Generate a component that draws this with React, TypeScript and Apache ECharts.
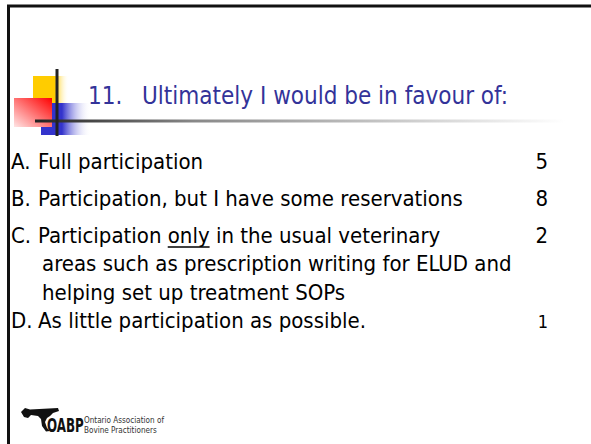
import React, { useEffect, useRef } from "react";
import * as echarts from "echarts";

const questionNumber = "11.";
const questionText = "Ultimately I would be in favour of:";
const letters = ["A.", "B.", "C.", "D."];
const answerLines = [
  ["Full participation"],
  ["Participation, but I have some reservations"],
  ["Participation only in the usual veterinary", "areas such as prescription writing for ELUD and", "helping set up treatment SOPs"],
  ["As little participation as possible."],
];
const votes = [5, 8, 2, 1];
const logoName = "OABP";
const logoLines = ["Ontario Association of", "Bovine Practitioners"];

const FONT = "'DejaVu Sans Condensed', 'DejaVu Sans', sans-serif";
const BODY_SIZE = 22;
const TITLE_SIZE = 24;

function measure(text: string, size: number): number {
  const c = document.createElement("canvas").getContext("2d");
  if (!c) return text.length * size * 0.5;
  c.font = `${size}px ${FONT}`;
  return c.measureText(text).width;
}

export default function App() {
  const ref = useRef<HTMLDivElement>(null);
  useEffect(() => {
    if (!ref.current) return;
    const chart = echarts.init(ref.current, null, { renderer: "svg" });
    const els: any[] = [];

    // frame
    els.push({ type: "line", shape: { x1: 7, y1: 6, x2: 591, y2: 6 }, style: { stroke: "#111", lineWidth: 3 } });
    els.push({ type: "line", shape: { x1: 8.5, y1: 5, x2: 8.5, y2: 444 }, style: { stroke: "#111", lineWidth: 3 } });

    // title icon
    els.push({
      type: "rect", shape: { x: 33, y: 76, width: 36, height: 28 },
      style: { fill: new echarts.graphic.LinearGradient(0, 0, 1, 0, [
        { offset: 0, color: "#FFCC00" }, { offset: 0.6, color: "#FFCC00" }, { offset: 1, color: "rgba(255,255,255,0)" }]) },
    });
    els.push({
      type: "rect", shape: { x: 41, y: 103, width: 50, height: 32 },
      style: { fill: new echarts.graphic.LinearGradient(0, 0, 1, 0, [
        { offset: 0, color: "#3333CC" }, { offset: 0.42, color: "#3333CC" }, { offset: 1, color: "rgba(255,255,255,0)" }]) },
    });
    els.push({
      type: "rect", shape: { x: 14, y: 98, width: 38, height: 29 },
      style: { fill: new echarts.graphic.LinearGradient(1, 0, 0, 1, [
        { offset: 0, color: "#FF0000" }, { offset: 1, color: "#FFE5E5" }]) },
    });
    els.push({
      type: "rect", shape: { x: 35, y: 119.5, width: 530, height: 3 },
      style: { fill: new echarts.graphic.LinearGradient(0, 0, 1, 0, [
        { offset: 0, color: "#222" }, { offset: 0.3, color: "#888" }, { offset: 1, color: "#fff" }]) },
    });
    els.push({ type: "line", shape: { x1: 57, y1: 69, x2: 57, y2: 136 }, style: { stroke: "#222", lineWidth: 3 } });

    // title
    els.push({ type: "text", x: 88, y: 96, style: { text: questionNumber, font: `${TITLE_SIZE}px ${FONT}`, fill: "#333399", verticalAlign: "middle" } });
    els.push({ type: "text", x: 142, y: 96, style: { text: questionText, font: `${TITLE_SIZE}px ${FONT}`, fill: "#333399", verticalAlign: "middle" } });

    // answers
    const rowY = [[161], [198], [235], [320]];
    const lineGap = 28.5;
    answerLines.forEach((lines, i) => {
      const y0 = rowY[i][0];
      els.push({ type: "text", x: 11, y: y0, style: { text: letters[i], font: `${BODY_SIZE}px ${FONT}`, fill: "#000", verticalAlign: "middle" } });
      lines.forEach((ln, j) => {
        els.push({ type: "text", x: j === 0 ? 38 : 42, y: y0 + j * lineGap, style: { text: ln, font: `${BODY_SIZE}px ${FONT}`, fill: "#000", verticalAlign: "middle" } });
      });
      const numSize = i === 3 ? 18 : BODY_SIZE;
      els.push({ type: "text", x: 548, y: y0 + (i === 3 ? 1 : 0), style: { text: String(votes[i]), font: `${numSize}px ${FONT}`, fill: "#000", verticalAlign: "middle", align: "right" } });
    });
    // underline "only"
    const cLine = answerLines[2][0];
    const pre = cLine.slice(0, cLine.indexOf("only"));
    const ux = 38 + measure(pre, BODY_SIZE);
    const uw = measure("only", BODY_SIZE);
    els.push({ type: "line", shape: { x1: ux, y1: rowY[2][0] + 12, x2: ux + uw, y2: rowY[2][0] + 12 }, style: { stroke: "#000", lineWidth: 1.3 } });

    // logo
    els.push({
      type: "polygon",
      shape: { points: [[21, 412], [25, 408], [30, 409.5], [58, 408], [59, 411], [53, 413], [50, 416], [47, 418], [45, 422], [47, 428], [50, 431], [46, 431.5], [42, 426], [41, 419], [38, 416], [31, 415], [28, 418], [24, 417]] },
      style: { fill: "#111" },
    });
    els.push({ type: "text", x: 47, y: 424.5, scaleX: 0.66, style: { text: logoName, font: `bold 20px ${FONT}`, fill: "#111", verticalAlign: "middle" } });
    logoLines.forEach((t, i) => {
      els.push({ type: "text", x: 84, y: 420 + i * 10, scaleX: 0.95, style: { text: t, font: `8.5px ${FONT}`, fill: "#333", verticalAlign: "middle" } });
    });

    chart.setOption({ animation: false, backgroundColor: "#fff", graphic: { elements: els } });
    return () => chart.dispose();
  }, []);
  return <div ref={ref} style={{ position: "fixed", left: 0, top: 0, width: 591, height: 444 }} />;
}
